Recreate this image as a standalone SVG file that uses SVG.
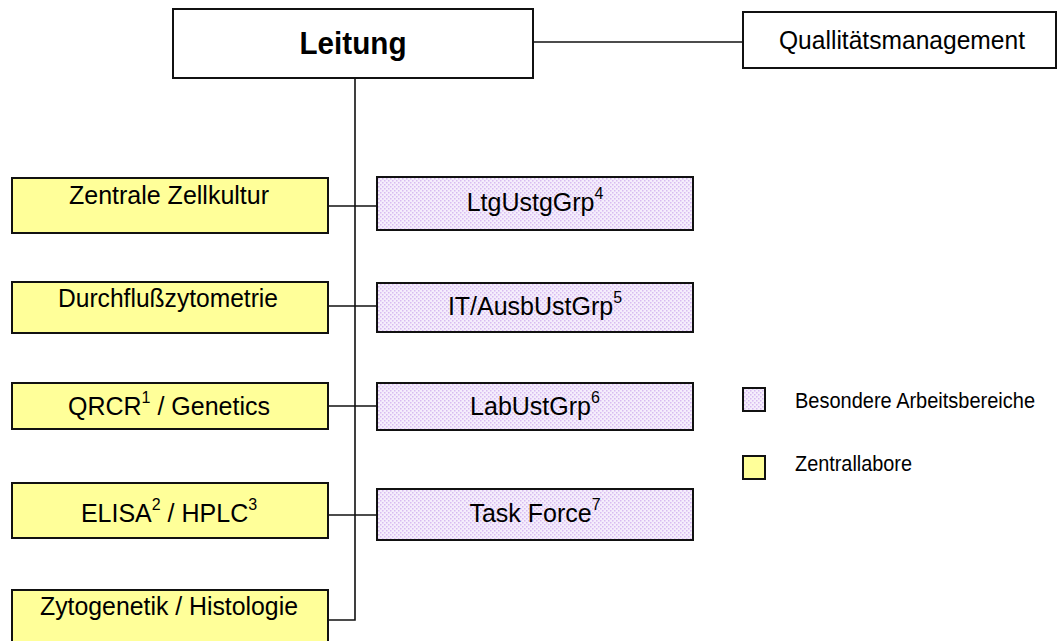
<svg xmlns="http://www.w3.org/2000/svg" width="1058" height="641" viewBox="0 0 1058 641">
  <defs>
    <!-- light lavender dot texture for the special work areas -->
    <pattern id="dots" width="4" height="4" patternUnits="userSpaceOnUse">
      <rect width="4" height="4" fill="#f5eefc"/>
      <rect x="0" y="0" width="1.5" height="1.5" fill="#d8bbf1"/>
      <rect x="2" y="2" width="1.5" height="1.5" fill="#d8bbf1"/>
    </pattern>
    <style>
      .box { stroke: #111; stroke-width: 2; }
      .white { fill: #ffffff; }
      .lab { fill: #ffff99; }
      .special { fill: url(#dots); }
      .line { stroke: #111; stroke-width: 1.6; fill: none; }
      text { font-family: "Liberation Sans", Arial, sans-serif; fill: #000; }
      .t { font-size: 25px; text-anchor: middle; }
      .sup { font-size: 16px; }
      .legend { font-size: 22px; }
    </style>
  </defs>

  <!-- connectors -->
  <g id="connectors">
    <line class="line" x1="533" y1="42" x2="743" y2="42"/>
    <polyline class="line" points="355,78 355,620 328,620"/>
    <line class="line" x1="328" y1="206" x2="377" y2="206"/>
    <line class="line" x1="328" y1="306" x2="377" y2="306"/>
    <line class="line" x1="328" y1="406" x2="377" y2="406"/>
    <line class="line" x1="328" y1="515" x2="377" y2="515"/>
  </g>

  <!-- management -->
  <g id="leitung">
    <rect class="box white" x="173" y="9" width="360" height="69"/>
    <text x="353" y="54" text-anchor="middle" font-size="31.5" font-weight="bold" textLength="107" lengthAdjust="spacingAndGlyphs">Leitung</text>
  </g>
  <g id="qm">
    <rect class="box white" x="743" y="12" width="313" height="56"/>
    <text x="902" y="49" text-anchor="middle" font-size="25.5" textLength="246" lengthAdjust="spacingAndGlyphs">Quallitätsmanagement</text>
  </g>

  <!-- central labs -->
  <g id="zellkultur">
    <rect class="box lab" x="12" y="178" width="316" height="55"/>
    <text class="t" x="169" y="204" textLength="200" lengthAdjust="spacingAndGlyphs">Zentrale Zellkultur</text>
  </g>
  <g id="durchfluss">
    <rect class="box lab" x="12" y="282" width="316" height="51"/>
    <text class="t" x="168" y="307" textLength="220" lengthAdjust="spacingAndGlyphs">Durchflußzytometrie</text>
  </g>
  <g id="qrcr">
    <rect class="box lab" x="12" y="383" width="316" height="46"/>
    <text class="t" x="169" y="415">QRCR<tspan class="sup" dy="-12">1</tspan><tspan dy="12"> / Genetics</tspan></text>
  </g>
  <g id="elisa">
    <rect class="box lab" x="12" y="483" width="316" height="55"/>
    <text class="t" x="169" y="522">ELISA<tspan class="sup" dy="-12">2</tspan><tspan dy="12"> / HPLC</tspan><tspan class="sup" dy="-12">3</tspan></text>
  </g>
  <g id="zytogenetik">
    <rect class="box lab" x="12" y="590" width="316" height="60"/>
    <text class="t" x="169" y="615" textLength="258" lengthAdjust="spacingAndGlyphs">Zytogenetik / Histologie</text>
  </g>

  <!-- special work areas -->
  <g id="ltg">
    <rect class="box special" x="377" y="177" width="316" height="53"/>
    <text class="t" x="535" y="211">LtgUstgGrp<tspan class="sup" dy="-12">4</tspan></text>
  </g>
  <g id="it">
    <rect class="box special" x="377" y="283" width="316" height="49"/>
    <text class="t" x="535" y="315">IT/AusbUstGrp<tspan class="sup" dy="-12">5</tspan></text>
  </g>
  <g id="lab">
    <rect class="box special" x="377" y="383" width="316" height="47"/>
    <text class="t" x="535" y="415">LabUstGrp<tspan class="sup" dy="-12">6</tspan></text>
  </g>
  <g id="taskforce">
    <rect class="box special" x="377" y="489" width="316" height="51"/>
    <text class="t" x="535" y="522">Task Force<tspan class="sup" dy="-12">7</tspan></text>
  </g>

  <!-- legend -->
  <g id="legend-special">
    <rect class="box special" x="743" y="388" width="22" height="23"/>
    <text class="legend" x="795" y="408" textLength="240" lengthAdjust="spacingAndGlyphs">Besondere Arbeitsbereiche</text>
  </g>
  <g id="legend-lab">
    <rect class="box lab" x="743" y="456" width="22" height="23"/>
    <text class="legend" x="795" y="471" textLength="117" lengthAdjust="spacingAndGlyphs">Zentrallabore</text>
  </g>
</svg>
